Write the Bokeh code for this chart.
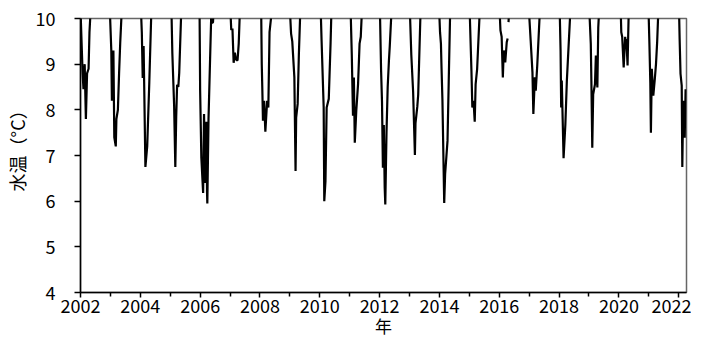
import numpy as np
from bokeh.plotting import figure
from bokeh.models import FixedTicker, Range1d, Title
from bokeh.embed import file_html
from bokeh.resources import INLINE

nan = float("nan")

# decimal year and water temperature (°C); values above 10 fall off the chart top
year_frac = [
    # 2002
    2002.00, 2002.03, 2002.07, 2002.10, 2002.14, 2002.18, 2002.22, 2002.27, 2002.30, 2002.34,
    # 2003
    2002.98, 2003.03, 2003.05, 2003.10, 2003.13, 2003.18, 2003.20, 2003.25, 2003.29, 2003.33, 2003.38,
    # 2004
    2004.02, 2004.05, 2004.08, 2004.11, 2004.17, 2004.23, 2004.30, 2004.37,
    # 2005
    2005.04, 2005.07, 2005.13, 2005.17, 2005.20, 2005.23, 2005.27, 2005.30, 2005.37,
    # 2006
    2005.98, 2006.00, 2006.04, 2006.10, 2006.13, 2006.17, 2006.21, 2006.23, 2006.24, 2006.28,
    2006.37, 2006.40, 2006.43, 2006.45,
    # 2007
    2007.01, 2007.04, 2007.08, 2007.12, 2007.16, 2007.20, 2007.25, 2007.29, 2007.33,
    # 2008
    2008.04, 2008.06, 2008.08, 2008.10, 2008.14, 2008.18, 2008.24, 2008.28, 2008.32, 2008.40,
    # 2009
    2009.00, 2009.04, 2009.08, 2009.15, 2009.19, 2009.21, 2009.26, 2009.30, 2009.35,
    # 2010
    2010.03, 2010.06, 2010.13, 2010.15, 2010.19, 2010.23, 2010.30, 2010.36, 2010.39,
    # 2011
    2011.03, 2011.07, 2011.11, 2011.14, 2011.17, 2011.22, 2011.28, 2011.33, 2011.37, 2011.41,
    # 2012
    2012.01, 2012.05, 2012.08, 2012.11, 2012.14, 2012.17, 2012.19, 2012.23, 2012.27, 2012.31,
    2012.34, 2012.40,
    # 2013
    2013.01, 2013.06, 2013.12, 2013.18, 2013.20, 2013.26, 2013.29, 2013.37,
    # 2014
    2013.99, 2014.02, 2014.05, 2014.07, 2014.10, 2014.16, 2014.19, 2014.27, 2014.31, 2014.36,
    # 2015
    2015.01, 2015.05, 2015.07, 2015.10, 2015.14, 2015.18, 2015.21, 2015.26, 2015.35,
    # 2016 (short gap in the record)
    2016.01, 2016.04, 2016.08, 2016.12, 2016.15, 2016.20, 2016.25, 2016.28, 2016.295, 2016.31,
    2016.33,
    # 2017
    2016.99, 2017.05, 2017.11, 2017.14, 2017.19, 2017.22, 2017.27, 2017.36,
    # 2018
    2018.02, 2018.05, 2018.07, 2018.09, 2018.12, 2018.15, 2018.21, 2018.26, 2018.38,
    # 2019
    2019.01, 2019.06, 2019.08, 2019.11, 2019.14, 2019.20, 2019.23, 2019.28, 2019.31, 2019.34,
    # 2020
    2020.06, 2020.08, 2020.11, 2020.16, 2020.21, 2020.23, 2020.25, 2020.29, 2020.31, 2020.33,
    # 2021
    2020.99, 2021.02, 2021.05, 2021.07, 2021.10, 2021.15, 2021.20, 2021.24, 2021.28, 2021.32,
    # 2022
    2022.01, 2022.03, 2022.06, 2022.10, 2022.12, 2022.15, 2022.20, 2022.23,
]

temp_c = [
    # 2002
    10.2, 9.6, 8.8, 8.45, 9.0, 7.8, 8.8, 8.9, 9.7, 10.2,
    # 2003
    10.2, 9.3, 8.2, 9.3, 7.4, 7.2, 7.8, 8.0, 8.8, 9.5, 10.2,
    # 2004
    10.2, 9.7, 8.7, 9.4, 6.75, 7.2, 8.6, 10.2,
    # 2005
    10.2, 9.25, 8.1, 6.75, 7.85, 8.55, 8.5, 8.8, 10.2,
    # 2006
    10.2, 8.42, 6.95, 6.18, 7.91, 6.4, 7.74, 6.2, 5.95, 7.8,
    10.05, 9.9, 9.92, 10.2,
    # 2007
    10.2, 9.75, 9.78, 9.03, 9.25, 9.1, 9.08, 9.45, 10.2,
    # 2008
    10.2, 9.0, 8.42, 7.76, 8.2, 7.52, 8.2, 8.05, 9.7, 10.2,
    # 2009
    10.2, 9.67, 9.5, 8.71, 6.66, 7.83, 8.13, 9.2, 10.2,
    # 2010
    10.2, 9.52, 8.05, 6.0, 6.44, 8.05, 8.24, 9.45, 10.2,
    # 2011
    10.2, 9.2, 7.87, 8.71, 7.28, 7.98, 8.57, 9.45, 9.6, 10.2,
    # 2012
    10.2, 8.85, 8.18, 6.73, 7.67, 6.3, 5.93, 7.49, 8.5, 9.06,
    9.4, 10.2,
    # 2013
    10.2, 9.2, 8.4, 7.01, 7.71, 8.07, 8.33, 10.2,
    # 2014
    10.2, 9.7, 9.45, 8.92, 8.22, 5.96, 6.59, 7.32, 8.6, 10.2,
    # 2015
    10.2, 9.3, 8.86, 8.05, 8.2, 7.74, 8.56, 8.89, 10.2,
    # 2016
    10.2, 9.74, 9.6, 8.71, 9.3, 9.04, 9.48, 9.56, nan, 9.92,
    10.2,
    # 2017
    10.2, 9.52, 8.82, 7.91, 8.71, 8.42, 8.97, 10.2,
    # 2018
    10.2, 9.3, 8.05, 8.64, 7.8, 6.94, 7.68, 8.64, 10.2,
    # 2019
    10.2, 9.45, 8.62, 7.17, 8.34, 8.56, 9.19, 8.49, 9.8, 10.2,
    # 2020
    10.2, 9.7, 9.6, 8.93, 9.6, 9.45, 9.55, 8.97, 9.6, 10.2,
    # 2021
    10.2, 9.45, 8.6, 7.5, 8.9, 8.31, 8.67, 9.0, 9.5, 10.2,
    # 2022
    10.2, 9.56, 8.79, 8.53, 6.75, 8.2, 7.39, 8.45,
]

x_major = list(range(2002, 2023, 2))
x_minor = list(range(2003, 2023, 2))
y_ticks = [4, 5, 6, 7, 8, 9, 10]

x_label = "年"
y_label = "水温（°C）"

num_font = "'Liberation Sans Narrow', 'Noto Sans CJK JP', sans-serif"
cjk_font = "Noto Sans CJK JP"

p = figure(width=691, height=340, output_backend="svg", toolbar_location=None,
           x_range=Range1d(2002, 2022.26), y_range=Range1d(4, 10),
           min_border_left=73, min_border_right=5, min_border_top=18,
           min_border_bottom=48)

p.line(np.array(year_frac), np.array(temp_c), line_color="black", line_width=2.2)

p.grid.visible = False
p.outline_line_color = "#666666"
p.outline_line_width = 1.5
p.background_fill_color = "white"
p.border_fill_color = "white"

xa = p.xaxis[0]
xa.ticker = FixedTicker(ticks=x_major, minor_ticks=x_minor)
xa.major_tick_in = 0
xa.major_tick_out = 5
xa.minor_tick_in = 0
xa.minor_tick_out = 4
xa.axis_line_color = "black"
xa.axis_line_width = 1.5
xa.major_tick_line_width = 1.5
xa.minor_tick_line_width = 1.5
xa.major_label_text_font = num_font
xa.major_label_text_font_size = "18px"
xa.major_label_text_color = "black"
xa.major_label_standoff = 1
xa.axis_label = x_label
xa.axis_label_text_font = cjk_font
xa.axis_label_text_font_size = "17px"
xa.axis_label_text_font_style = "normal"
xa.axis_label_text_color = "black"
xa.axis_label_standoff = -3

ya = p.yaxis[0]
ya.ticker = FixedTicker(ticks=y_ticks, minor_ticks=[])
ya.major_tick_in = 0
ya.major_tick_out = 6
ya.axis_line_color = "black"
ya.axis_line_width = 1.5
ya.major_tick_line_width = 1.5
ya.major_label_text_font = num_font
ya.major_label_text_font_size = "18px"
ya.major_label_text_color = "black"
ya.major_label_standoff = 19

# y-axis title as a left-side Title so its position along the axis can be set
y_title = Title(text=y_label, align="left", offset=101, vertical_align="middle",
                standoff=4, text_font=cjk_font, text_font_size="18px",
                text_font_style="normal", text_color="black")
p.add_layout(y_title, "left")

open("out.html", "w").write(file_html(p, INLINE))
